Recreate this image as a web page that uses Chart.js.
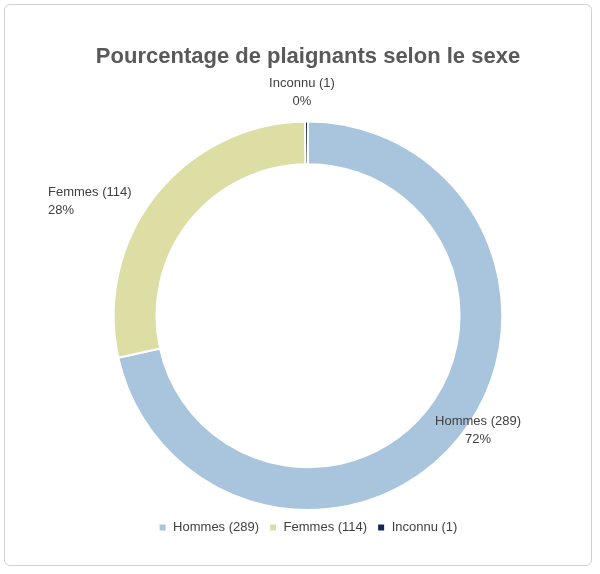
<!DOCTYPE html>
<html><head><meta charset="utf-8">
<script src="https://cdn.jsdelivr.net/npm/chart.js@4"></script>
<style>
html,body{margin:0;padding:0;background:#fff;}
#wrap{position:absolute;left:4px;top:4px;width:588px;height:562px;border:1px solid #d0d0d0;border-radius:6px;box-sizing:border-box;}
canvas{position:absolute;left:0;top:0;}
</style></head><body>
<div id="wrap"></div>
<canvas id="c" width="600" height="574"></canvas>
<script>
const categories = ["Hommes (289)", "Femmes (114)", "Inconnu (1)"];
const values = [289, 114, 1];
const percentLabels = ["72%", "28%", "0%"];
const colors = ["#a9c5de", "#dcdea4", "#1a2458"];

const labelPlugin = {
  id: 'outLabels',
  afterDatasetsDraw(chart) {
    const ctx = chart.ctx;
    const meta = chart.getDatasetMeta(0);
    ctx.save();
    ctx.font = '13px "Liberation Sans", Arial, sans-serif';
    ctx.fillStyle = '#404040';
    meta.data.forEach((arc, i) => {
      let x, y, align = 'center';
      if (i === 0) { x = 478; y = 421; }
      if (i === 1) { x = 48; y = 192; align = 'left'; }
      if (i === 2) { x = 302; y = 83; }
      ctx.textAlign = align;
      ctx.textBaseline = 'middle';
      ctx.fillText(categories[i], x, y);
      ctx.fillText(percentLabels[i], x, y + 18);
    });
    ctx.restore();
  }
};

new Chart(document.getElementById('c'), {
  type: 'doughnut',
  data: { labels: categories, datasets: [{ data: values, backgroundColor: colors, borderColor: '#ffffff', borderWidth: 2 }] },
  options: {
    responsive: false, animation: false, cutout: '78%',
    layout: { padding: { top: 14, bottom: 30, left: 16, right: 0 } },
    plugins: {
      title: { display: true, text: 'Pourcentage de plaignants selon le sexe', color: '#595959',
        font: { size: 22, weight: 'bold', family: '"Liberation Sans", Arial, sans-serif' }, padding: { top: 30, bottom: 50 } },
      legend: { position: 'bottom', labels: { boxWidth: 8, boxHeight: 8, color: '#404040', padding: 10,
        font: { size: 13, family: '"Liberation Sans", Arial, sans-serif' } } },
      tooltip: { enabled: false }
    }
  },
  plugins: [labelPlugin]
});
</script></body></html>
